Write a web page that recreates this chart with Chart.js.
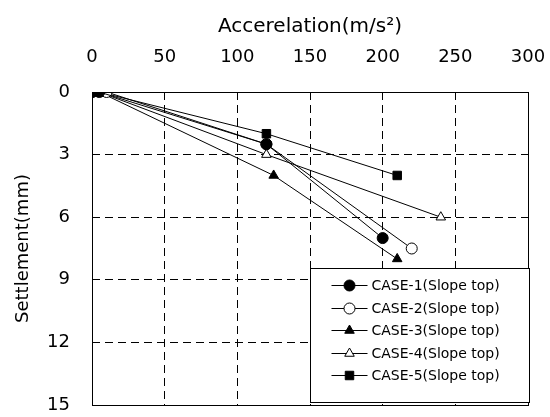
<!DOCTYPE html>
<html>
<head>
<meta charset="utf-8">
<script src="https://cdn.jsdelivr.net/npm/chart.js@4/dist/chart.umd.min.js"></script>
<style>
  html, body { margin: 0; padding: 0; background: #fff; }
  #wrap { width: 550px; height: 417px; }
</style>
</head>
<body>
<div id="wrap"><canvas id="chart" width="550" height="417"></canvas></div>
<script>
// values: [acceleration, settlement]
var case1 = [[0, 0], [5, 0], [120, 2.5], [200, 7]];
var case2 = [[0, 0], [10, 0], [120, 2.5], [220, 7.5]];
var case3 = [[0, 0], [5, 0], [125, 4], [210, 8]];
var case4 = [[0, 0], [5, 0], [120, 3], [240, 6]];
var case5 = [[0, 0], [5, 0], [120, 2], [210, 4]];

var seriesLabels = ['CASE-1(Slope top)', 'CASE-2(Slope top)', 'CASE-3(Slope top)',
                    'CASE-4(Slope top)', 'CASE-5(Slope top)'];
var seriesData = [case1, case2, case3, case4, case5];
var markerStyle = ['circle', 'circle', 'triangle', 'triangle', 'rect'];
var markerFilled = [true, false, true, false, true];

var xTitle = 'Accerelation(m/s\u00B2)';
var yTitle = 'Settlement(mm)';

var FONT = '"DejaVu Sans", sans-serif';

function toPoints(arr) {
    return arr.map(function (p) { return { x: p[0], y: p[1] }; });
}

var datasets = [];
for (var i = 0; i < seriesData.length; i++) {
    datasets.push({
        label: seriesLabels[i],
        data: toPoints(seriesData[i]),
        borderColor: '#000',
        borderWidth: 1,
        backgroundColor: markerFilled[i] ? '#000' : '#fff',
        pointStyle: markerStyle[i],
        pointRadius: markerStyle[i] == 'rect' ? 6 : 5.5,
        pointBorderColor: '#000',
        pointBorderWidth: 1,
        pointBackgroundColor: markerFilled[i] ? '#000' : '#fff',
        showLine: true,
        tension: 0
    });
}

// full black frame round the plot
var framePlugin = {
    id: 'frame',
    afterDraw: function (chart) {
        var a = chart.chartArea, ctx = chart.ctx;
        ctx.save();
        ctx.strokeStyle = '#000';
        ctx.lineWidth = 1;
        ctx.strokeRect(Math.round(a.left) + 0.5, Math.round(a.top) + 0.5,
            Math.round(a.right - a.left), Math.round(a.bottom - a.top));
        ctx.restore();
    }
};

// boxed legend inside the lower right of the plot
var boxLegend = {
    id: 'boxLegend',
    afterDraw: function (chart) {
        var ctx = chart.ctx, a = chart.chartArea;
        var left = Math.round(chart.scales.x.getPixelForValue(150)) + 0.5;
        var right = Math.round(a.right) + 1.5;
        var top = 268.5, bottom = Math.round(a.bottom) - 2.5;
        ctx.save();
        ctx.fillStyle = '#fff';
        ctx.fillRect(left, top, right - left, bottom - top);
        ctx.strokeStyle = '#000';
        ctx.lineWidth = 1;
        ctx.strokeRect(left, top, right - left, bottom - top);
        for (var i = 0; i < seriesLabels.length; i++) {
            var y = Math.round(285 + i * 22.5) + 0.5;
            ctx.strokeStyle = '#000';
            ctx.lineWidth = 1;
            ctx.beginPath();
            ctx.moveTo(left + 21, y);
            ctx.lineTo(left + 57, y);
            ctx.stroke();
            ctx.fillStyle = markerFilled[i] ? '#000' : '#fff';
            Chart.helpers.drawPoint(ctx, {
                pointStyle: markerStyle[i],
                radius: markerStyle[i] == 'rect' ? 6 : 5.5,
                borderWidth: 1,
                rotation: 0
            }, left + 39, y);
            ctx.font = '14px ' + FONT;
            ctx.textBaseline = 'middle';
            ctx.textAlign = 'left';
            ctx.fillStyle = '#000';
            ctx.fillText(seriesLabels[i], left + 61, y + 1);
        }
        ctx.restore();
    }
};

var ctx = document.getElementById('chart').getContext('2d');
var chart = new Chart(ctx, {
    type: 'scatter',
    data: { datasets: datasets },
    options: {
        responsive: false,
        animation: false,
        layout: { padding: { left: 13, right: 22, top: 15, bottom: 12 } },
        plugins: {
            legend: { display: false },
            tooltip: { enabled: false }
        },
        scales: {
            x: {
                type: 'linear',
                position: 'top',
                min: 0,
                max: 300,
                ticks: { stepSize: 50, color: '#000', padding: 24, maxRotation: 0,
                         font: { family: FONT, size: 18 } },
                grid: { color: '#000', lineWidth: 1, drawTicks: false },
                border: { display: false, dash: [8, 5] },
                title: { display: true, text: xTitle, color: '#000',
                         font: { family: FONT, size: 20 }, padding: 0 },
                afterFit: function (scale) {
                    scale.height = 77;
                    scale.paddingLeft = 0;
                    scale.paddingRight = 0;
                }
            },
            y: {
                type: 'linear',
                reverse: true,
                min: 0,
                max: 15,
                ticks: { stepSize: 3, color: '#000', padding: 22,
                         font: { family: FONT, size: 18 } },
                grid: { color: '#000', lineWidth: 1, drawTicks: false },
                border: { display: false, dash: [8, 5] },
                title: { display: true, text: yTitle, color: '#000',
                         font: { family: FONT, size: 18 }, padding: 0 },
                afterFit: function (scale) {
                    scale.width = 79;
                    scale.paddingTop = 0;
                    scale.paddingBottom = 0;
                }
            }
        }
    },
    plugins: [framePlugin, boxLegend]
});
</script>
</body>
</html>
